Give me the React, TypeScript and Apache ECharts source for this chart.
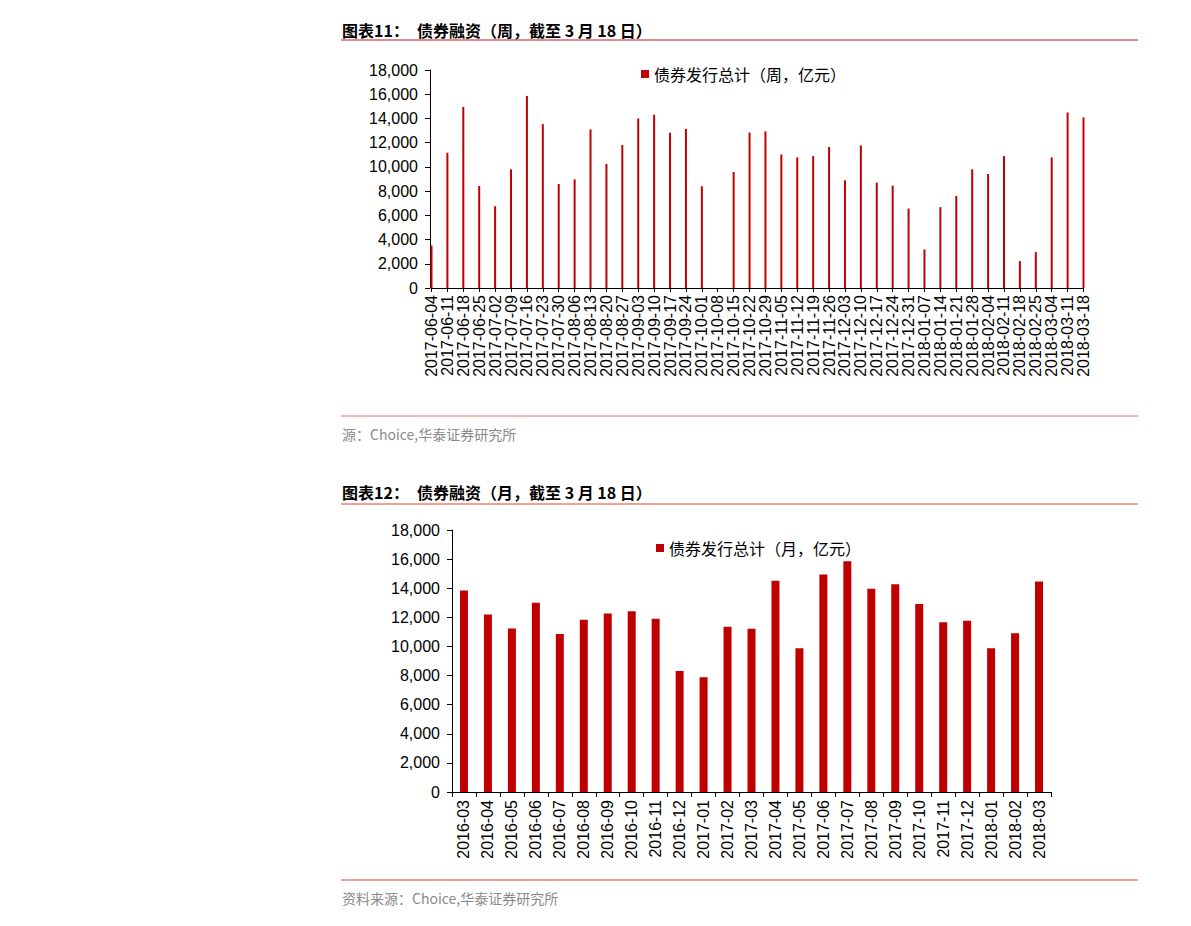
import React, { useEffect, useRef } from "react";
import * as echarts from "echarts";

const weekCategories = [
  "2017-06-04", "2017-06-11", "2017-06-18", "2017-06-25",
  "2017-07-02", "2017-07-09", "2017-07-16", "2017-07-23", "2017-07-30",
  "2017-08-06", "2017-08-13", "2017-08-20", "2017-08-27",
  "2017-09-03", "2017-09-10", "2017-09-17", "2017-09-24",
  "2017-10-01", "2017-10-08", "2017-10-15", "2017-10-22", "2017-10-29",
  "2017-11-05", "2017-11-12", "2017-11-19", "2017-11-26",
  "2017-12-03", "2017-12-10", "2017-12-17", "2017-12-24", "2017-12-31",
  "2018-01-07", "2018-01-14", "2018-01-21", "2018-01-28",
  "2018-02-04", "2018-02-11", "2018-02-18", "2018-02-25",
  "2018-03-04", "2018-03-11", "2018-03-18",
];

const weekValues = [
  3500, 11170, 14950, 8420,
  6750, 9800, 15860, 13530, 8590,
  8970, 13090, 10240, 11800,
  14000, 14300, 12820, 13140,
  8400, 0, 9580, 12840, 12930,
  11030, 10780, 10890, 11640,
  8890, 11770, 8700, 8450, 6560,
  3180, 6670, 7600, 9800,
  9410, 10890, 2220, 2960,
  10780, 14490, 14080,
];

const monthCategories = [
  "2016-03", "2016-04", "2016-05", "2016-06", "2016-07", "2016-08", "2016-09",
  "2016-10", "2016-11", "2016-12", "2017-01", "2017-02", "2017-03", "2017-04",
  "2017-05", "2017-06", "2017-07", "2017-08", "2017-09", "2017-10", "2017-11",
  "2017-12", "2018-01", "2018-02", "2018-03",
];

const monthValues = [
  13850, 12200, 11240, 13000, 10850, 11840, 12270,
  12410, 11900, 8310, 7880, 11360, 11220, 14520,
  9870, 14950, 15850, 13970, 14270, 12920, 11660,
  11770, 9870, 10900, 14470,
];

const yTicks = { min: 0, max: 18000, interval: 2000 };

const weekSeriesName = "债券发行总计（周，亿元）";
const monthSeriesName = "债券发行总计（月，亿元）";

const title1Label = "图表11：";
const title1Text = "债券融资（周，截至 3 月 18 日）";
const title2Label = "图表12：";
const title2Text = "债券融资（月，截至 3 月 18 日）";
const source1 = "源：Choice,华泰证券研究所";
const source2 = "资料来源：Choice,华泰证券研究所";

const BAR = "#c00000";
const CJK = "'Noto Sans CJK SC', sans-serif";
const LATIN = "'Liberation Sans', Arial, sans-serif";

const fmt = (v: number) => v.toLocaleString("en-US");

export default function App() {
  const ref = useRef<HTMLDivElement>(null);

  useEffect(() => {
    if (!ref.current) return;
    const chart = echarts.init(ref.current, undefined, { renderer: "svg" });

    const axisLine = { show: true, lineStyle: { color: "#000", width: 1 } };
    const yAxisCommon = {
      type: "value" as const,
      min: yTicks.min,
      max: yTicks.max,
      interval: yTicks.interval,
      axisLine,
      axisTick: { show: true, length: 5, lineStyle: { color: "#000" } },
      splitLine: { show: false },
      axisLabel: {
        color: "#000",
        fontSize: 16,
        fontFamily: LATIN,
        margin: 12,
        formatter: (v: number) => fmt(v),
      },
    };

    const titleText = (t: string, x: number, y: number) => ({
      type: "text",
      x,
      y,
      style: {
        text: t,
        fill: "#000",
        font: `bold 16px ${CJK}`,
        textVerticalAlign: "middle",
      },
    });
    const hline = (y: number, color: string) => ({
      type: "line",
      shape: { x1: 341, y1: y, x2: 1138, y2: y },
      style: { stroke: color, lineWidth: 1 },
    });
    const srcText = (t: string, y: number) => ({
      type: "text",
      x: 342,
      y,
      style: {
        text: t,
        fill: "#8a8a8a",
        font: `14px ${CJK}`,
        textVerticalAlign: "middle",
      },
    });

    chart.setOption({
      animation: false,
      backgroundColor: "#fff",
      grid: [
        { left: 431.5, top: 70, width: 652, height: 218, containLabel: false },
        { left: 452, top: 530, width: 599, height: 262, containLabel: false },
      ],
      legend: [
        {
          data: [weekSeriesName],
          left: 636,
          top: 61,
          itemWidth: 8,
          itemHeight: 8,
          icon: "rect",
          textStyle: { fontSize: 16, fontFamily: CJK, color: "#000" },
        },
        {
          data: [monthSeriesName],
          left: 651,
          top: 535,
          itemWidth: 8,
          itemHeight: 8,
          icon: "rect",
          textStyle: { fontSize: 16, fontFamily: CJK, color: "#000" },
        },
      ],
      xAxis: [
        {
          type: "category",
          gridIndex: 0,
          data: weekCategories,
          boundaryGap: false,
          axisLine,
          axisTick: { show: true, length: 4, interval: 0, lineStyle: { color: "#000" } },
          axisLabel: {
            interval: 0,
            rotate: 90,
            color: "#000",
            fontSize: 16,
            fontFamily: LATIN,
            margin: 7,
          },
        },
        {
          type: "category",
          gridIndex: 1,
          data: monthCategories,
          boundaryGap: true,
          axisLine,
          axisTick: { show: true, length: 5, interval: 0, lineStyle: { color: "#000" } },
          axisLabel: {
            interval: 0,
            rotate: 90,
            color: "#000",
            fontSize: 16,
            fontFamily: LATIN,
            margin: 8,
          },
        },
      ],
      yAxis: [
        { ...yAxisCommon, gridIndex: 0, offset: 1.5 },
        { ...yAxisCommon, gridIndex: 1 },
      ],
      series: [
        {
          name: weekSeriesName,
          type: "bar",
          xAxisIndex: 0,
          yAxisIndex: 0,
          data: weekValues,
          barWidth: 2,
          clip: false,
          itemStyle: { color: BAR },
        },
        {
          name: monthSeriesName,
          type: "bar",
          xAxisIndex: 1,
          yAxisIndex: 1,
          data: monthValues,
          barWidth: 8,
          itemStyle: { color: BAR },
        },
      ],
      graphic: [
        titleText(title1Label, 342, 30),
        titleText(title1Text, 417, 30),
        hline(40, "#c8161d"),
        hline(416, "#f06a5e"),
        srcText(source1, 434),
        titleText(title2Label, 342, 492),
        titleText(title2Text, 417, 492),
        hline(504, "#e8412c"),
        hline(880, "#e8412c"),
        srcText(source2, 898),
      ],
    });

    return () => chart.dispose();
  }, []);

  return (
    <div
      ref={ref}
      style={{ position: "absolute", left: 0, top: 0, width: 1191, height: 926, background: "#fff" }}
    />
  );
}
